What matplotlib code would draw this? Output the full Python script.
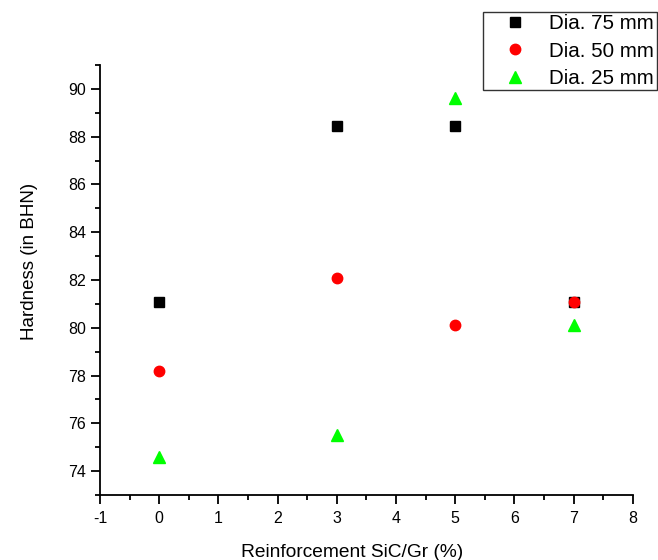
import matplotlib.pyplot as plt
from matplotlib.ticker import MultipleLocator

plt.rcParams['font.family'] = ['Liberation Sans', 'DejaVu Sans']
plt.rcParams['axes.unicode_minus'] = False

# reinforcement SiC/Gr (%)
reinf = [0, 3, 5, 7]
# hardness (BHN) for each casting diameter
dia75 = [81.1, 88.45, 88.45, 81.1]
dia50 = [78.2, 82.1, 80.1, 81.1]
dia25 = [74.6, 75.5, 89.6, 80.1]

fig = plt.figure(figsize=(6.58, 5.6), dpi=100)
ax = fig.add_axes([0.152, 0.116, 0.8096, 0.768])

ax.plot(reinf, dia75, 's', color='black', markersize=7, linestyle='none', label='Dia. 75 mm')
ax.plot(reinf, dia50, 'o', color='red', markersize=7.5, linestyle='none', label='Dia. 50 mm')
ax.plot(reinf, dia25, '^', color='#00ff00', markersize=8, linestyle='none', label='Dia. 25 mm')

ax.set_xlim(-1, 8)
ax.set_ylim(73, 91)
ax.xaxis.set_major_locator(MultipleLocator(1))
ax.xaxis.set_minor_locator(MultipleLocator(0.5))
ax.yaxis.set_major_locator(MultipleLocator(2))
ax.yaxis.set_minor_locator(MultipleLocator(1))

ax.spines['top'].set_visible(False)
ax.spines['right'].set_visible(False)
ax.spines['left'].set_linewidth(1.3)
ax.spines['bottom'].set_linewidth(1.3)
ax.tick_params(which='major', direction='out', length=6.5, width=1.3, labelsize=11.5)
ax.tick_params(axis='x', which='major', pad=5)
ax.tick_params(which='minor', direction='out', length=3.6, width=1.3)

ax.set_xlabel('Reinforcement SiC/Gr (%)', fontsize=13.8)
ax.set_ylabel('Hardness (in BHN)', fontsize=13.5)
ax.xaxis.set_label_coords(0.474, -0.114)
ax.yaxis.set_label_coords(-0.1156, 0.544)

leg = fig.legend(loc='upper left', bbox_to_anchor=(483 / 658, 1 - 12 / 560),
                 fontsize=14.8, frameon=True, fancybox=False, borderpad=0.12,
                 labelspacing=0.4, handletextpad=0.2, borderaxespad=0,
                 handlelength=2.9)
leg.get_frame().set_edgecolor('black')
leg.get_frame().set_linewidth(1.0)

fig.savefig('out.png', dpi=100)
